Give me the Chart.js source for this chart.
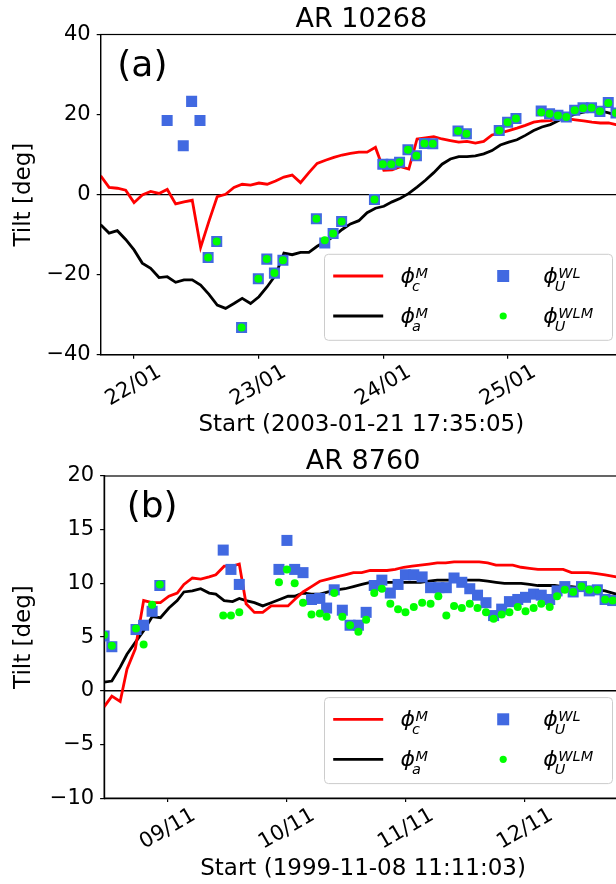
<!DOCTYPE html>
<html>
<head>
<meta charset="utf-8">
<title>Tilt AR 10268 / AR 8760</title>
<script src="https://cdn.jsdelivr.net/npm/chart.js@4.4.1/dist/chart.umd.min.js"></script>
<style>
  html, body { margin: 0; padding: 0; background: #fff; overflow: hidden; width: 616px; height: 884px; }
  .panel { position: absolute; left: 0; width: 630px; }
  #panelA { top: 0; height: 440px; }
  #panelB { top: 440px; height: 444px; }
</style>
</head>
<body>
<div class="panel" id="panelA"><canvas id="chartA" width="630" height="440"></canvas></div>
<div class="panel" id="panelB"><canvas id="chartB" width="630" height="444"></canvas></div>
<script>
// Global Chart.js setup (matplotlib look)
Chart.defaults.font.family = "'DejaVu Sans', sans-serif";
Chart.defaults.color = '#000000';

const COLORS = {
  red: '#ff0000',
  black: '#000000',
  blue: '#4169e1',
  green: '#00ff00',
};

// ---- Panel (a) AR 10268 : x in days since 2003-01-21 17:35:05 ----
const tickDaysA = [0.262, 1.262, 2.262, 3.262];
const tickLabelsA = ['22/01', '23/01', '24/01', '25/01'];

const timeA = [
  0.000, 0.067, 0.133, 0.200, 0.267, 0.333, 0.400, 0.467, 0.533, 0.600,
  0.667, 0.733, 0.800, 0.867, 0.933, 1.000, 1.067, 1.133, 1.200, 1.267,
  1.333, 1.400, 1.467, 1.533, 1.600, 1.667, 1.733, 1.800, 1.867, 1.933,
  2.000, 2.067, 2.133, 2.200, 2.267, 2.333, 2.400, 2.467, 2.533, 2.600,
  2.667, 2.733, 2.800, 2.867, 2.933, 3.000, 3.067, 3.133, 3.200, 3.267,
  3.333, 3.400, 3.467, 3.533, 3.600, 3.667, 3.733, 3.800, 3.867, 3.933,
  4.000, 4.067, 4.133,
];
const phiCA = [
  4.7, 1.8, 1.6, 1.1, -2.0, -0.1, 0.8, 0.3, 1.3, -2.3,
  -1.8, -1.4, -13.2, -6.6, -0.5, 0.1, 1.8, 2.6, 2.4, 2.9,
  2.6, 3.4, 4.4, 4.9, 3.0, 5.5, 7.8, 8.6, 9.3, 9.9,
  10.3, 10.6, 10.6, 11.8, 6.1, 6.2, 7.0, 6.4, 13.9, 14.2,
  14.5, 13.9, 13.5, 13.1, 13.3, 12.9, 13.3, 14.9, 15.4, 16.0,
  16.6, 17.3, 18.1, 18.4, 18.5, 19.0, 19.0, 18.7, 18.4, 18.1,
  17.9, 17.9, 17.4,
];
const phiAA = [
  -7.5, -9.6, -9.0, -11.2, -13.8, -17.1, -18.4, -20.7, -20.5, -21.9,
  -21.3, -21.3, -22.6, -24.9, -27.6, -28.4, -27.2, -25.9, -27.2, -25.5,
  -23.0, -20.1, -14.6, -15.0, -14.4, -14.4, -12.9, -11.7, -10.4, -8.7,
  -7.3, -6.5, -4.5, -3.4, -2.9, -1.8, -0.9, 0.3, 1.9, 3.6,
  5.5, 7.6, 8.9, 9.5, 9.5, 9.7, 10.2, 11.0, 12.4, 13.1,
  13.7, 14.8, 16.0, 16.9, 17.5, 18.5, 19.4, 20.1, 20.6, 21.1,
  20.9, 20.4, 19.8,
];
const wlTimeA = [
  0.532, 0.661, 0.728, 0.795, 0.860, 0.929, 1.128, 1.262, 1.330, 1.391,
  1.459, 1.727, 1.794, 1.861, 1.929, 2.192, 2.259, 2.326, 2.393, 2.460,
  2.528, 2.592, 2.659, 2.861, 2.928, 3.191, 3.258, 3.325, 3.527, 3.594,
  3.661, 3.728, 3.795, 3.862, 3.930, 3.997, 4.064, 4.126,
];
const wlA = [
  18.5, 12.2, 23.3, 18.5, -15.7, -11.7, -33.2, -21.0, -16.1, -19.6,
  -16.4, -6.0, -12.1, -9.7, -6.7, -1.2, 7.6, 7.6, 8.1, 11.2,
  9.7, 12.8, 12.7, 15.9, 15.2, 16.0, 18.1, 19.0, 20.9, 20.2,
  19.8, 19.4, 21.1, 21.7, 21.7, 20.8, 23.0, 20.4,
];
const wlmTimeA = [
  0.860, 0.929, 1.128, 1.262, 1.330, 1.391, 1.459, 1.727, 1.794, 1.861,
  1.929, 2.192, 2.259, 2.326, 2.393, 2.460, 2.528, 2.592, 2.659, 2.861,
  2.928, 3.191, 3.258, 3.325, 3.527, 3.594, 3.661, 3.728, 3.795, 3.862,
  3.930, 3.997, 4.064, 4.126,
];
const wlmA = [
  -15.7, -11.7, -33.2, -21.0, -16.1, -19.6, -16.4, -6.0, -11.4, -9.7,
  -6.7, -1.2, 7.6, 7.6, 8.1, 11.2, 9.7, 12.8, 12.7, 15.9,
  15.2, 16.0, 18.1, 19.0, 20.6, 20.2, 19.8, 19.4, 21.1, 21.6,
  21.7, 20.8, 22.9, 20.4,
];

// ---- Panel (b) AR 8760 : x in days since 1999-11-08 11:11:03 ----
const tickDaysB = [0.534, 1.534, 2.534, 3.534];
const tickLabelsB = ['09/11', '10/11', '11/11', '12/11'];

const timeB = [
  0.000, 0.065, 0.135, 0.192, 0.262, 0.332, 0.403, 0.473, 0.544, 0.614,
  0.670, 0.741, 0.811, 0.882, 0.938, 1.008, 1.079, 1.135, 1.192, 1.262,
  1.332, 1.403, 1.473, 1.544, 1.600, 1.670, 1.741, 1.811, 1.882, 1.952,
  2.023, 2.093, 2.163, 2.234, 2.304, 2.375, 2.445, 2.515, 2.586, 2.656,
  2.727, 2.797, 2.868, 2.938, 3.008, 3.079, 3.149, 3.220, 3.290, 3.361,
  3.431, 3.501, 3.572, 3.642, 3.713, 3.783, 3.854, 3.924, 3.994, 4.065,
  4.135, 4.206, 4.299,
];
const phiCB = [
  -1.5, -0.5, -1.0, 2.0, 3.9, 8.4, 8.2, 8.2, 8.8, 9.1,
  9.9, 10.5, 10.4, 10.6, 10.8, 11.6, 11.6, 11.8, 8.1, 7.3,
  7.3, 7.9, 7.9, 7.9, 8.5, 9.2, 9.7, 10.2, 10.4, 10.6,
  10.8, 11.0, 11.0, 11.2, 11.2, 11.2, 11.3, 11.5, 11.6, 11.7,
  11.8, 11.9, 11.9, 12.0, 12.0, 12.0, 12.0, 11.9, 11.7, 11.7,
  11.7, 11.5, 11.4, 11.3, 11.3, 11.3, 11.3, 11.0, 11.0, 11.0,
  10.9, 10.8, 10.6,
];
const phiAB = [
  0.8, 0.9, 2.2, 3.4, 4.5, 5.6, 6.9, 6.8, 7.7, 8.4,
  9.2, 9.3, 9.5, 9.1, 9.0, 8.4, 8.3, 8.6, 8.4, 8.2,
  7.9, 8.2, 8.5, 8.8, 8.8, 9.1, 9.0, 9.0, 9.2, 9.4,
  9.5, 9.7, 9.9, 10.1, 10.1, 10.1, 10.1, 10.1, 10.1, 10.1,
  10.2, 10.3, 10.3, 10.3, 10.3, 10.3, 10.3, 10.2, 10.1, 10.0,
  10.0, 10.0, 9.9, 9.8, 9.8, 9.8, 9.7, 9.7, 9.6, 9.5,
  9.4, 9.3, 9.0,
];
const wlTimeB = [
  0.000, 0.065, 0.268, 0.332, 0.403, 0.468, 1.000, 1.065, 1.135, 1.468,
  1.535, 1.600, 1.670, 1.741, 1.811, 1.868, 1.932, 2.000, 2.065, 2.135,
  2.200, 2.268, 2.332, 2.403, 2.468, 2.530, 2.600, 2.670, 2.741, 2.811,
  2.873, 2.938, 3.003, 3.070, 3.135, 3.206, 3.270, 3.338, 3.403, 3.473,
  3.538, 3.606, 3.670, 3.741, 3.803, 3.868, 3.938, 4.008, 4.073, 4.141,
  4.206, 4.270,
];
const wlB = [
  5.1, 4.1, 5.7, 6.1, 7.4, 9.8, 13.1, 11.3, 9.9, 11.3,
  14.0, 11.3, 11.0, 8.5, 8.6, 7.7, 9.4, 7.5, 6.1, 6.1,
  7.3, 9.8, 10.3, 9.1, 9.9, 10.8, 10.8, 10.6, 9.6, 9.6,
  9.6, 10.5, 10.1, 9.5, 8.9, 8.2, 7.0, 7.6, 8.3, 8.5,
  8.7, 9.0, 8.9, 8.5, 9.3, 9.7, 9.2, 9.7, 9.3, 9.4,
  8.5, 8.4,
];
const wlmTimeB = [
  0.000, 0.065, 0.268, 0.332, 0.403, 0.468, 1.000, 1.065, 1.135, 1.468,
  1.535, 1.600, 1.670, 1.741, 1.811, 1.868, 1.932, 2.000, 2.065, 2.135,
  2.200, 2.268, 2.332, 2.403, 2.468, 2.530, 2.600, 2.670, 2.741, 2.806,
  2.873, 2.938, 3.003, 3.070, 3.135, 3.206, 3.270, 3.338, 3.403, 3.473,
  3.538, 3.606, 3.670, 3.741, 3.803, 3.868, 3.938, 4.008, 4.073, 4.141,
  4.206, 4.270,
];
const wlmB = [
  5.2, 4.2, 5.8, 4.3, 8.0, 9.9, 7.0, 7.0, 7.3, 10.1,
  11.3, 10.0, 8.2, 7.1, 7.2, 6.9, 9.1, 6.9, 6.1, 5.5,
  6.6, 9.1, 9.5, 8.1, 7.6, 7.3, 7.8, 8.2, 8.1, 8.8,
  7.0, 7.9, 7.7, 8.1, 7.7, 7.3, 6.7, 7.1, 7.3, 7.8,
  7.4, 7.7, 8.1, 7.8, 8.8, 9.4, 9.2, 9.7, 9.4, 9.4,
  8.5, 8.4,
];

// Legend entries (math labels: phi with sub/superscript)
const legendSub = ['c', 'a', 'U', 'U'];
const legendSup = ['M', 'M', 'WL', 'WLM'];
const legendKind = ['line', 'line', 'rect', 'circle'];
const legendColor = [COLORS.red, COLORS.black, COLORS.blue, COLORS.green];

function pairs(xs, ys) {
  return xs.map((x, i) => ({ x, y: ys[i] }));
}

function lineSet(label, xs, ys, color, width, order) {
  return {
    label,
    data: pairs(xs, ys),
    borderColor: color,
    backgroundColor: color,
    borderWidth: width,
    pointRadius: 0,
    tension: 0,
    clip: 0,
    order,
  };
}

function pointSet(label, xs, ys, color, style, radius, order) {
  return {
    label,
    data: pairs(xs, ys),
    showLine: false,
    pointStyle: style,
    pointRadius: radius,
    pointBackgroundColor: color,
    pointBorderColor: color,
    pointBorderWidth: 0,
    borderColor: color,
    backgroundColor: color,
    clip: 0,
    order,
  };
}

// Draw phi_{sub}^{sup} in matplotlib mathtext style
function drawPhi(ctx, x, cy, sub, sup) {
  ctx.textAlign = 'left';
  ctx.textBaseline = 'alphabetic';
  ctx.font = "italic 22px 'DejaVu Sans'";
  ctx.fillText('\u03D5', x, cy + 6.6);
  const w = ctx.measureText('\u03D5').width;
  ctx.font = "italic 14.5px 'DejaVu Sans'";
  ctx.fillText(sup, x + w + 0.5, cy + 1.6);
  ctx.fillText(sub, x + w - 3, cy + 15);
}

function drawLegend(ctx, area) {
  const w = 288, h = 86;
  const bx = area.right - 9.5 - w;
  const by = area.bottom - 14.5 - h;
  ctx.save();
  ctx.beginPath();
  ctx.roundRect(bx, by, w, h, 4);
  ctx.fillStyle = 'rgba(255,255,255,0.8)';
  ctx.fill();
  ctx.strokeStyle = '#cccccc';
  ctx.lineWidth = 1;
  ctx.stroke();

  legendKind.forEach((kind, i) => {
    const col = i < 2 ? 0 : 1;
    const cy = by + 21.7 + (i % 2) * 40;
    const color = legendColor[i];
    if (kind === 'line') {
      ctx.strokeStyle = color;
      ctx.lineWidth = 2.8;
      ctx.beginPath();
      ctx.moveTo(bx + 8.7, cy);
      ctx.lineTo(bx + 58.7, cy);
      ctx.stroke();
    } else if (kind === 'rect') {
      ctx.fillStyle = color;
      ctx.fillRect(bx + 178.7 - 6, cy - 6, 12, 12);
    } else {
      ctx.fillStyle = color;
      ctx.beginPath();
      ctx.arc(bx + 178.7, cy, 3.6, 0, Math.PI * 2);
      ctx.fill();
    }
    ctx.fillStyle = '#000';
    drawPhi(ctx, bx + (col === 0 ? 76 : 218.7), cy, legendSub[i], legendSup[i]);
  });
  ctx.restore();
}

// Top spine, rotated date labels, panel tag and legend
const panelDecor = {
  id: 'panelDecor',
  afterDraw(chart, args, opts) {
    const { ctx, chartArea: area, scales: { x } } = chart;
    ctx.save();
    ctx.strokeStyle = '#000';
    ctx.lineWidth = 1.2;
    ctx.strokeRect(area.left, area.top, area.right - area.left, area.bottom - area.top);

    ctx.fillStyle = '#000';
    ctx.font = "21px 'DejaVu Sans'";
    ctx.textAlign = 'center';
    ctx.textBaseline = 'middle';
    x.ticks.forEach((t, i) => {
      const px = x.getPixelForValue(t.value);
      ctx.save();
      ctx.translate(px, area.bottom + 31);
      ctx.rotate(-Math.PI / 6);
      ctx.fillText(opts.tickLabels[i], 0, 0);
      ctx.restore();
    });

    ctx.font = "36px 'DejaVu Sans'";
    ctx.textAlign = 'left';
    ctx.textBaseline = 'alphabetic';
    ctx.fillText(opts.tag, area.left + opts.tagDx, area.top + 41);
    ctx.restore();

    drawLegend(ctx, area);
  },
};

function buildPanel(canvasId, p) {
  const canvas = document.getElementById(canvasId);
  return new Chart(canvas, {
    type: 'line',
    data: {
      datasets: [
        pointSet('WLM', p.wlmTime, p.wlm, COLORS.green, 'circle', 4, 0),
        pointSet('WL', p.wlTime, p.wl, COLORS.blue, 'rect', 7.8, 1),
        lineSet('phi_c', p.time, p.phiC, COLORS.red, 2.8, 2),
        lineSet('phi_a', p.time, p.phiA, COLORS.black, 2.8, 3),
        lineSet('zero', [0, p.xMax], [0, 0], COLORS.black, 1.3, 4),
      ],
    },
    options: {
      responsive: false,
      animation: false,
      events: [],
      layout: { padding: { left: 0, right: 8, top: 0, bottom: 0 } },
      plugins: {
        legend: { display: false },
        tooltip: { enabled: false },
        title: {
          display: true,
          fullSize: false,
          text: p.title,
          color: '#000',
          font: { size: 27, weight: 'normal', lineHeight: 1 },
          padding: p.titlePad,
        },
        panelDecor: { tag: p.tag, tagDx: p.tagDx, tickLabels: p.tickLabels },
      },
      scales: {
        x: {
          type: 'linear',
          min: 0,
          max: p.xMax,
          afterBuildTicks: (scale) => {
            scale.ticks = p.tickDays.map(v => ({ value: v }));
          },
          afterFit: (scale) => { scale.height = p.xAxisHeight; },
          ticks: { display: false },
          grid: { drawOnChartArea: false, drawTicks: true, tickLength: 4, color: '#000', lineWidth: 1.2 },
          border: { color: '#000', width: 1.2 },
          title: {
            display: true,
            text: p.xTitle,
            color: '#000',
            font: { size: 23 },
            padding: { top: 0, bottom: p.xTitlePad },
          },
        },
        y: {
          min: p.yMin,
          max: p.yMax,
          afterFit: (scale) => { scale.width = p.yAxisWidth; },
          ticks: {
            stepSize: p.yStep,
            padding: 6,
            color: '#000',
            font: { size: 21 },
            callback: v => (v < 0 ? '\u2212' + Math.abs(v) : String(v)),
          },
          grid: { drawOnChartArea: false, drawTicks: true, tickLength: 4, color: '#000', lineWidth: 1.2 },
          border: { color: '#000', width: 1.2 },
          title: {
            display: true,
            text: 'Tilt [deg]',
            color: '#000',
            font: { size: 23 },
            padding: { top: 10, bottom: 0 },
          },
        },
      },
    },
    plugins: [panelDecor],
  });
}

buildPanel('chartA', {
  title: 'AR 10268',
  titlePad: { top: 6.2, bottom: 1.3 },
  tag: '(a)',
  tagDx: 16.6,
  xTitle: 'Start (2003-01-21 17:35:05)',
  xTitlePad: 1.2,
  xAxisHeight: 85.2,
  yAxisWidth: 100.7,
  xMax: 4.174,
  yMin: -40, yMax: 40, yStep: 20,
  tickDays: tickDaysA, tickLabels: tickLabelsA,
  time: timeA, phiC: phiCA, phiA: phiAA,
  wlTime: wlTimeA, wl: wlA, wlmTime: wlmTimeA, wlm: wlmA,
});

buildPanel('chartB', {
  title: 'AR 8760',
  titlePad: { top: 8.9, bottom: 0.1 },
  tag: '(b)',
  tagDx: 22.6,
  xTitle: 'Start (1999-11-08 11:11:03)',
  xTitlePad: 0.7,
  xAxisHeight: 85.9,
  yAxisWidth: 104.1,
  xMax: 4.348,
  yMin: -10, yMax: 20, yStep: 5,
  tickDays: tickDaysB, tickLabels: tickLabelsB,
  time: timeB, phiC: phiCB, phiA: phiAB,
  wlTime: wlTimeB, wl: wlB, wlmTime: wlmTimeB, wlm: wlmB,
});
</script>
</body>
</html>
